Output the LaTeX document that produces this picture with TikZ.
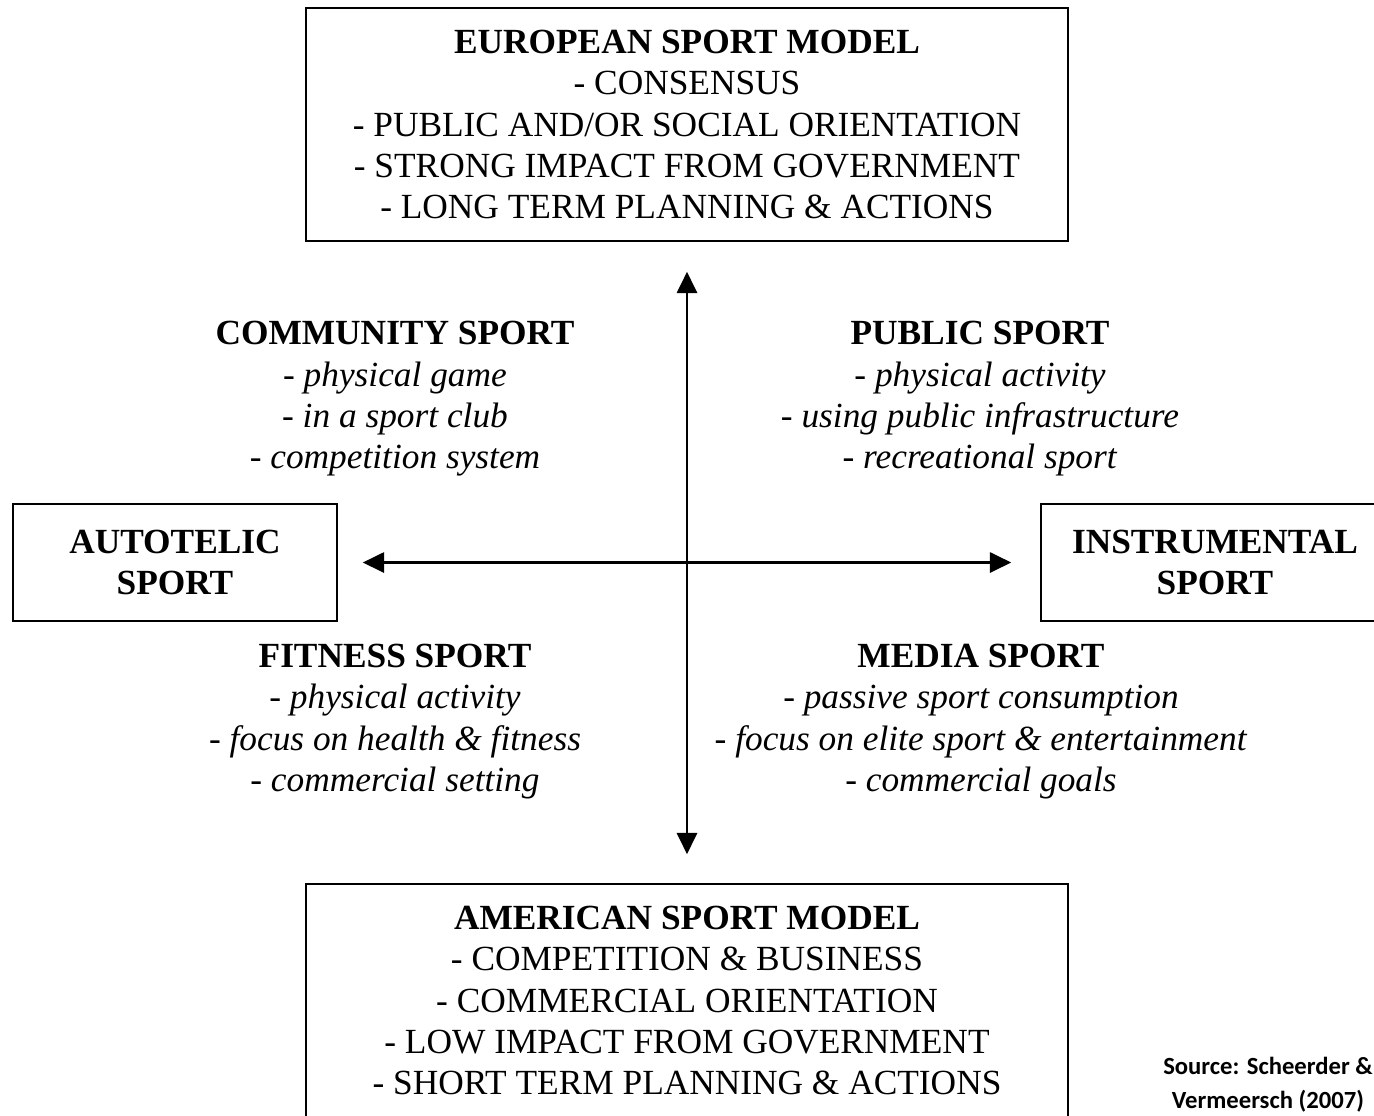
\documentclass[tikz,border=0pt]{standalone}
\usepackage{fontspec}
\setmainfont{Liberation Serif}
\newfontfamily\srcfont{Carlito}
\usetikzlibrary{arrows.meta}
\begin{document}
\begin{tikzpicture}[x=0.75pt,y=-0.75pt,
  txt/.style={font=\fontsize{26.5}{31}\selectfont, align=center, inner sep=0pt},
  box/.style={draw, line width=1.1pt, txt},
  axis/.style={line width=2.2pt, {Triangle[length=16pt,width=15pt]}-{Triangle[length=16pt,width=15pt]}}]
\useasboundingbox (0,0) rectangle (1374,1115);
\clip (0,0) rectangle (1374,1115);
\node[box, minimum width=571.5pt, minimum height=174.75pt] (eu) at (687,124.5)
  {\textbf{EUROPEAN SPORT MODEL}\\- CONSENSUS\\- PUBLIC AND/OR SOCIAL ORIENTATION\\- STRONG IMPACT FROM GOVERNMENT\\- LONG TERM PLANNING \& ACTIONS};
\node[box, minimum width=571.5pt, minimum height=174.75pt] (am) at (687,1000.5)
  {\textbf{AMERICAN SPORT MODEL}\\- COMPETITION \& BUSINESS\\- COMMERCIAL ORIENTATION\\- LOW IMPACT FROM GOVERNMENT\\- SHORT TERM PLANNING \& ACTIONS};
\node[box, minimum width=243pt, minimum height=87.75pt] (aut) at (175,562.5)
  {\textbf{AUTOTELIC}\\\textbf{SPORT}};
\node[box, minimum width=261pt, minimum height=87.75pt] (ins) at (1215,562.5)
  {\textbf{INSTRUMENTAL}\\\textbf{SPORT}};
\node[txt] (com) at (395,399)
  {\textbf{COMMUNITY SPORT}\\\textit{- physical game}\\\textit{- in a sport club}\\\textit{- competition system}};
\node[txt] (pub) at (980,399)
  {\textbf{PUBLIC SPORT}\\\textit{- physical activity}\\\textit{- using public infrastructure}\\\textit{- recreational sport}};
\node[txt] (fit) at (395,721.5)
  {\textbf{FITNESS SPORT}\\\textit{- physical activity}\\\textit{- focus on health \& fitness}\\\textit{- commercial setting}};
\node[txt] (med) at (981,721.5)
  {\textbf{MEDIA SPORT}\\\textit{- passive sport consumption}\\\textit{- focus on elite sport \& entertainment}\\\textit{- commercial goals}};
\draw[axis, shorten <=22.5pt, shorten >=21.75pt] (eu.south) -- (am.north);
\draw[axis, shorten <=18.75pt, shorten >=21.75pt] (aut.east) -- (ins.west);
\node[font=\srcfont\bfseries\fontsize{18.5}{25.5}\selectfont, align=center, inner sep=0pt] (src) at (1268,1085)
  {Source: Scheerder \&\\Vermeersch (2007)};
\end{tikzpicture}
\end{document}
